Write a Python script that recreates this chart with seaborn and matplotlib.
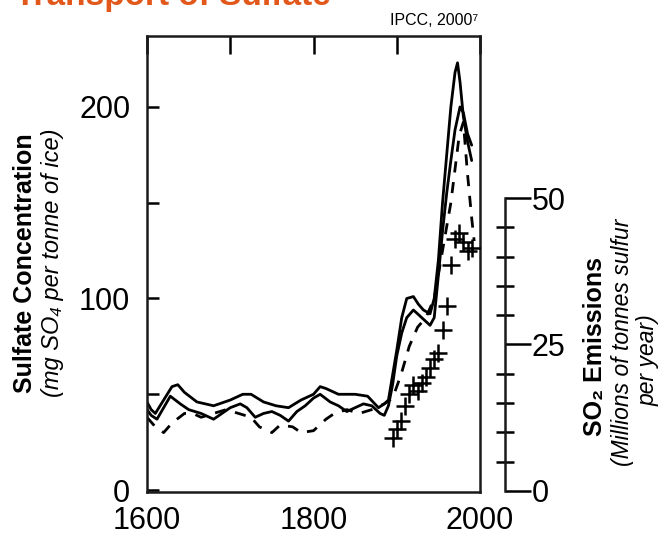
import numpy as np
import pandas as pd
import matplotlib
matplotlib.use('Agg')
import matplotlib.pyplot as plt
import seaborn as sns
from matplotlib.ticker import FixedLocator, FuncFormatter

# sulfate record 1 (upper solid line), mg SO4 per tonne of ice
years_a = [1600, 1605, 1610, 1620, 1630, 1637, 1645, 1660, 1680, 1700, 1715, 1725, 1740,
           1755, 1770, 1785, 1800, 1808, 1815, 1830, 1850, 1865, 1878, 1885, 1890, 1895,
           1900, 1906, 1912, 1920, 1926, 1932, 1940, 1945, 1950, 1955, 1960, 1965, 1970,
           1973, 1976, 1980, 1985, 1990]
sulfate_a = [46, 42, 40, 47, 54, 55, 51, 46, 44, 47, 50, 50, 46,
             44, 43, 47, 50, 54, 53, 50, 50, 49, 43, 45, 47, 60,
             73, 90, 100, 101, 97, 94, 92, 100, 120, 150, 175, 200, 218,
             223, 213, 195, 182, 172]

# sulfate record 2 (lower solid line)
years_b = [1600, 1605, 1612, 1620, 1628, 1640, 1650, 1665, 1680, 1690, 1700, 1712, 1720,
           1730, 1740, 1750, 1760, 1770, 1780, 1790, 1800, 1808, 1820, 1830, 1840, 1850,
           1860, 1870, 1880, 1885, 1890, 1895, 1900, 1906, 1912, 1920, 1930, 1940, 1945,
           1950, 1955, 1960, 1965, 1970, 1976, 1980, 1985, 1990]
sulfate_b = [42, 39, 37, 43, 49, 45, 42, 40, 37, 40, 43, 45, 43,
             38, 40, 41, 39, 36, 41, 44, 48, 50, 46, 44, 41, 43,
             45, 44, 40, 39, 44, 55, 70, 82, 90, 94, 90, 86, 90,
             112, 135, 155, 172, 188, 200, 197, 186, 180]

# sulfate record 3 (dashed line)
years_c = [1600, 1610, 1620, 1630, 1645, 1655, 1665, 1680, 1695, 1710, 1725, 1735, 1750,
           1760, 1775, 1785, 1800, 1815, 1825, 1840, 1855, 1870, 1885, 1895, 1905, 1915,
           1925, 1935, 1945, 1955, 1965, 1975, 1980, 1985, 1990, 1993]
sulfate_c = [38, 33, 30, 35, 40, 40, 38, 40, 42, 40, 38, 33, 30,
             34, 33, 30, 31, 37, 40, 42, 40, 42, 45, 48, 60, 75,
             85, 90, 100, 125, 150, 185, 192, 165, 142, 130]

# SO2 emissions, millions of tonnes sulfur per year (crosses)
years_so2 = [1895, 1900, 1905, 1910, 1915, 1920, 1925, 1930, 1935, 1940, 1945, 1950,
             1955, 1960, 1965, 1970, 1975, 1980, 1985, 1990]
so2 = [9, 10.5, 12, 14.5, 16.5, 18, 17, 18.5, 19.5, 21, 22.5, 23.5,
       27.5, 31.5, 38.5, 43, 44, 42.5, 41, 41.5]

x_ticks = [1600, 1700, 1800, 1900, 2000]
x_labels = [1600, 1800, 2000]
y_ticks = [0, 50, 100, 150, 200]
y_labels = [0, 100, 200]

sns.set_style('white')
plt.rcParams['font.family'] = ['Liberation Sans', 'DejaVu Sans']
plt.rcParams['text.color'] = 'black'
plt.rcParams['xtick.color'] = 'black'
plt.rcParams['ytick.color'] = 'black'

fig = plt.figure(figsize=(6.71, 5.37), dpi=100)
ax = fig.add_axes([147 / 671, 1 - 492 / 537, 333 / 671, 456 / 537])

df_a = pd.DataFrame({'year': years_a, 'sulfate': sulfate_a})
df_b = pd.DataFrame({'year': years_b, 'sulfate': sulfate_b})
df_c = pd.DataFrame({'year': years_c, 'sulfate': sulfate_c})
sns.lineplot(data=df_a, x='year', y='sulfate', ax=ax, color='black', linewidth=2.0)
sns.lineplot(data=df_b, x='year', y='sulfate', ax=ax, color='black', linewidth=2.0)
sns.lineplot(data=df_c, x='year', y='sulfate', ax=ax, color='black', linewidth=2.0,
             linestyle=(0, (4, 3.5)))

ax.set_xlim(1600, 2000)
ax.set_ylim(-1, 237)
ax.set_xlabel('')
ax.set_ylabel('')
ax.xaxis.set_major_locator(FixedLocator(x_ticks))
ax.yaxis.set_major_locator(FixedLocator(y_ticks))
ax.xaxis.set_major_formatter(FuncFormatter(lambda v, p: f'{int(v)}' if int(v) in x_labels else ''))
ax.yaxis.set_major_formatter(FuncFormatter(lambda v, p: f'{int(v)}' if int(v) in y_labels else ''))
ax.tick_params(axis='x', direction='in', length=13, width=1.8, top=True, labeltop=False,
               labelsize=22, pad=10, labelcolor='black')
ax.tick_params(axis='y', direction='in', length=8.5, width=1.8, right=False,
               labelsize=22, pad=12, labelcolor='black')
for s in ax.spines.values():
    s.set_linewidth(1.8)
    s.set_color('#1a1a1a')

# second axis for SO2 emissions
ax2 = ax.twinx()
df_s = pd.DataFrame({'year': years_so2, 'so2': so2})
sns.scatterplot(data=df_s, x='year', y='so2', ax=ax2, marker='+', s=150,
                color='black', linewidth=1.8)
ax2.set_ylim(-0.2, 77.7)
ax2.set_ylabel('')
for side in ['top', 'left', 'bottom']:
    ax2.spines[side].set_visible(False)
ax2.spines['right'].set_position(('outward', 18))
ax2.spines['right'].set_bounds(0, 50)
ax2.spines['right'].set_linewidth(1.8)
ax2.spines['right'].set_color('#1a1a1a')
ax2.yaxis.set_major_locator(FixedLocator([0, 25, 50]))
ax2.yaxis.set_minor_locator(FixedLocator([5, 10, 15, 20, 30, 35, 40, 45]))
ax2.tick_params(axis='y', which='major', direction='out', length=19, width=1.8,
                labelsize=22, pad=0, labelcolor='black')
ax2.tick_params(axis='y', which='minor', direction='inout', length=13, width=1.8)

# axis titles
fig.text(25 / 671, 1 - 263 / 537, 'Sulfate Concentration', rotation=90, fontsize=18,
         weight='bold', ha='center', va='center')
fig.text(53 / 671, 1 - 263 / 537, '(mg SO\u2084 per tonne of ice)', rotation=90, fontsize=17,
         style='italic', ha='center', va='center')
fig.text(595 / 671, 1 - 346 / 537, 'SO\u2082 Emissions', rotation=90, fontsize=18,
         weight='bold', ha='center', va='center')
fig.text(622 / 671, 1 - 342 / 537, '(Millions of tonnes sulfur', rotation=90, fontsize=16.5,
         style='italic', ha='center', va='center')
fig.text(648 / 671, 1 - 360 / 537, 'per year)', rotation=90, fontsize=16.5,
         style='italic', ha='center', va='center')

fig.text(15 / 671, 1 - 5 / 537, 'Transport of Sulfate', fontsize=24, weight='bold',
         color='#E2571A', ha='left', va='baseline')
fig.text(390 / 671, 1 - 25 / 537, 'IPCC, 2000\u2077', fontsize=11.5, ha='left', va='baseline')

fig.savefig('out.png', dpi=100)
